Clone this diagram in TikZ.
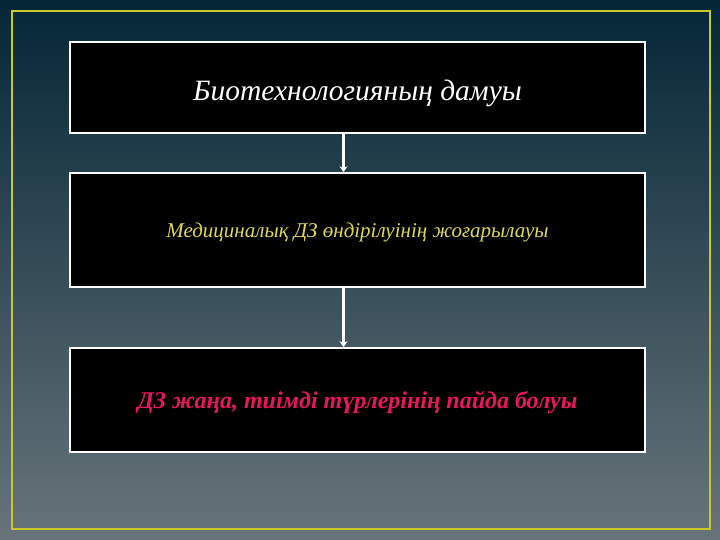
\documentclass[tikz,border=0pt]{standalone}
\usepackage{fontspec}
\setmainfont{Liberation Serif}
\usetikzlibrary{positioning, arrows.meta}
\definecolor{bgtop}{RGB}{4,38,54}
\definecolor{bgmid}{RGB}{30,68,84}
\definecolor{bgbot}{RGB}{104,116,122}
\definecolor{framey}{RGB}{200,200,40}
\definecolor{softyellow}{RGB}{222,214,90}
\definecolor{crimson}{RGB}{232,22,92}
\tikzset{
   blackbox/.style={
     draw=white, fill=black, line width=1.6pt,
     minimum width=575pt, inner sep=0pt
   },
   toptext/.style={
      blackbox, text=white, font=\itshape\fontsize{29.5}{34}\selectfont,
      text height=33pt, text depth=7pt
   },
   midtext/.style={
      blackbox, text=softyellow, font=\itshape\fontsize{21}{25}\selectfont,
      text height=20pt, text depth=4pt
   },
   lowtext/.style={
      blackbox, text=crimson, font=\bfseries\itshape\fontsize{24}{28}\selectfont,
      text height=22pt, text depth=4pt
   },
   flowline/.style={->, white, line width=2.6pt, >={Stealth[length=6pt,width=8pt]}}
}
\begin{document}
\begin{tikzpicture}[x=1pt,y=1pt]
   \shade[top color=bgtop, middle color=bgmid, bottom color=bgbot] (0,0) rectangle (720,540);
   \useasboundingbox (0,0) rectangle (720,540);
   \draw[framey, line width=2pt] (12,11) rectangle (710,529);

   \node[toptext, minimum height=91pt](devel) at (357.5,452.5) {Биотехнологияның дамуы};
   \node[midtext, minimum height=114pt](output) at (357.5,310) {Медициналық ДЗ өндірілуінің жоғарылауы};
   \node[lowtext, minimum height=104pt](newtypes) at (357.5,140) {ДЗ жаңа, тиімді түрлерінің пайда болуы};

   \draw[flowline] ([xshift=-14pt]devel.south) -- ([xshift=-14pt]output.north);
   \draw[flowline] ([xshift=-14pt]output.south) -- ([xshift=-14pt]newtypes.north);
\end{tikzpicture}
\end{document}
